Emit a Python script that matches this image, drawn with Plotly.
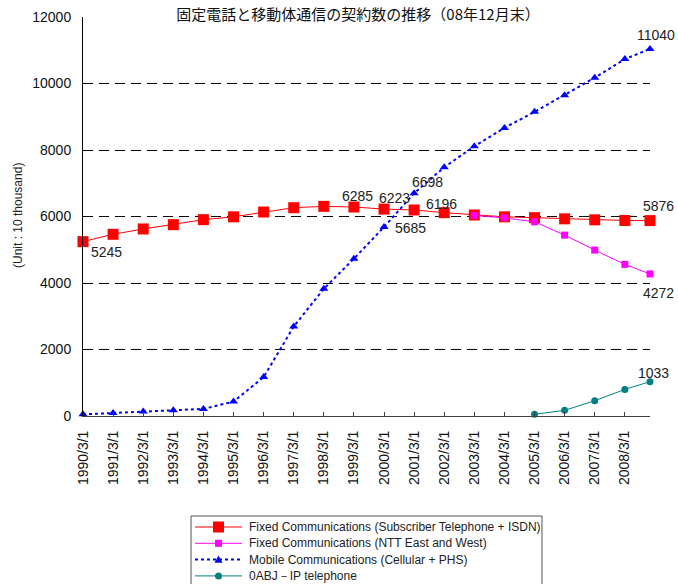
import plotly.graph_objects as go

# Observation dates (end of March each year, plus end of December 2008)
dates = [f"{y}-03-01" for y in range(1990, 2009)] + ["2008-12-31"]
tick_dates = dates[:-1]
tick_labels = [f"{d[:4]}/3/1" for d in tick_dates]

# Subscriptions, unit: 10 thousand
fixed_total = [5245, 5465, 5625, 5755, 5905, 5990, 6135, 6265, 6305, 6285,
               6223, 6196, 6115, 6045, 5990, 5965, 5930, 5900, 5880, 5876]
fixed_ntt = [None] * 13 + [6030, 5960, 5840, 5440, 4990, 4560, 4272]
mobile = [49, 87, 138, 171, 213, 433, 1170, 2690, 3825, 4731,
          5685, 6698, 7482, 8112, 8665, 9147, 9648, 10172, 10734, 11040]
ip_phone = [None] * 15 + [50, 170, 460, 800, 1033]

series_names = [
    "Fixed Communications (Subscriber Telephone + ISDN)",
    "Fixed Communications (NTT East and West)",
    "Mobile Communications (Cellular + PHS)",
    "0ABJ－IP telephone",
]

LATIN = "Liberation Sans, Arial, sans-serif"
CJK = "Noto Sans CJK JP, sans-serif"

W, H = 678, 584
M_L, M_R, M_T, M_B = 83, 28, 17, 168
PW, PH = W - M_L - M_R, H - M_T - M_B


def px_x(x):
    return (x - M_L) / PW


def px_y(y):
    return (H - M_B - y) / PH


styles = [
    dict(color="#ff0000", width=1, dash="solid", symbol="square", size=11),
    dict(color="#ff00ff", width=1, dash="solid", symbol="square", size=7),
    dict(color="#0000ff", width=2, dash="dot", symbol="triangle-up", size=8),
    dict(color="#008080", width=1, dash="solid", symbol="circle", size=7),
]
values = [fixed_total, fixed_ntt, mobile, ip_phone]

fig = go.Figure()
for name, vals, st in zip(series_names, values, styles):
    fig.add_trace(go.Scatter(
        x=dates, y=vals, name=name, mode="lines+markers", showlegend=False,
        line=dict(color=st["color"], width=st["width"], dash=st["dash"]),
        marker=dict(symbol=st["symbol"], size=st["size"], color=st["color"]),
        cliponaxis=False))

# Value callouts: (series, index, xshift, yshift)
callouts = [
    (fixed_total, 0, 23, -10),
    (fixed_total, 9, 4, 11),
    (fixed_total, 10, 10, 11),
    (fixed_total, 11, 27, 6),
    (mobile, 10, 26, -1),
    (mobile, 11, 13, 11),
    (mobile, 19, 6, 14),
    (fixed_total, 19, 8, 15),
    (fixed_ntt, 19, 8, -19),
    (ip_phone, 19, 3, 9),
]
annotations = []
for series, i, dx, dy in callouts:
    annotations.append(dict(
        x=dates[i], y=series[i], xref="x", yref="y", text=str(series[i]),
        showarrow=False, xanchor="center", yanchor="middle",
        xshift=dx, yshift=dy, font=dict(family=LATIN, size=14, color="#222222")))

annotations.append(dict(
    x=px_x(18), y=px_y(216), xref="paper", yref="paper",
    text="(Unit : 10 thousand)", textangle=-90, showarrow=False,
    xanchor="center", yanchor="middle",
    font=dict(family=LATIN, size=12, color="#222222")))

# Legend box drawn below the plot (it runs off the bottom edge of the page)
shapes = [dict(type="rect", xref="paper", yref="paper",
               x0=px_x(191), x1=px_x(542), y0=px_y(516), y1=px_y(600),
               line=dict(color="#555555", width=1), fillcolor="white")]
row0, row_gap = 527, 16.3
for k, (name, st) in enumerate(zip(series_names, styles)):
    yc = px_y(row0 + row_gap * k)
    shapes.append(dict(type="line", xref="paper", yref="paper",
                       x0=px_x(195), x1=px_x(242), y0=yc, y1=yc,
                       line=dict(color=st["color"], width=st["width"], dash=st["dash"])))
    s = st["size"] / 2
    mk = dict(xref="paper", yref="paper", xsizemode="pixel", ysizemode="pixel",
              xanchor=px_x(218.5), yanchor=yc, fillcolor=st["color"],
              line=dict(color=st["color"], width=0))
    if st["symbol"] == "square":
        mk.update(type="rect", x0=-s, x1=s, y0=-s, y1=s)
    elif st["symbol"] == "circle":
        mk.update(type="circle", x0=-s, x1=s, y0=-s, y1=s)
    else:
        mk.update(type="path", path=f"M {-s},{-s * 0.8} L {s},{-s * 0.8} L 0,{s * 1.0} Z")
    shapes.append(mk)
    annotations.append(dict(
        x=px_x(247), y=yc, xref="paper", yref="paper", text=name,
        showarrow=False, xanchor="left", yanchor="middle",
        font=dict(family=LATIN, size=12, color="#222222")))

fig.update_layout(
    width=W, height=H,
    margin=dict(l=M_L, r=M_R, t=M_T, b=M_B, autoexpand=False),
    paper_bgcolor="white", plot_bgcolor="white",
    title=dict(text="固定電話と移動体通信の契約数の推移（08年12月末）",
               x=358 / W, xanchor="center", y=1 - 15 / H, yanchor="middle",
               font=dict(family=CJK, size=15, color="#111111")),
    annotations=annotations,
    shapes=shapes,
    showlegend=False,
)

fig.update_xaxes(
    type="date", range=[dates[0], dates[-1]],
    tickmode="array", tickvals=tick_dates, ticktext=tick_labels,
    tickangle=-90, ticks="inside", ticklen=4, tickcolor="#404040",
    showline=True, linecolor="#404040", linewidth=1, showgrid=False,
    zeroline=False, ticklabelstandoff=8, automargin=False,
    tickfont=dict(family=LATIN, size=14, color="#111111"))

fig.update_yaxes(
    range=[0, 12000], dtick=2000, tick0=0, tickformat="d",
    ticks="inside", ticklen=5, tickcolor="#000000",
    showline=True, linecolor="#000000", linewidth=1,
    showgrid=True, gridcolor="#000000", gridwidth=1, griddash="10px,6px",
    zeroline=False, ticklabelstandoff=8, automargin=False,
    tickfont=dict(family=LATIN, size=14, color="#111111"))

fig.write_html("out.html")
